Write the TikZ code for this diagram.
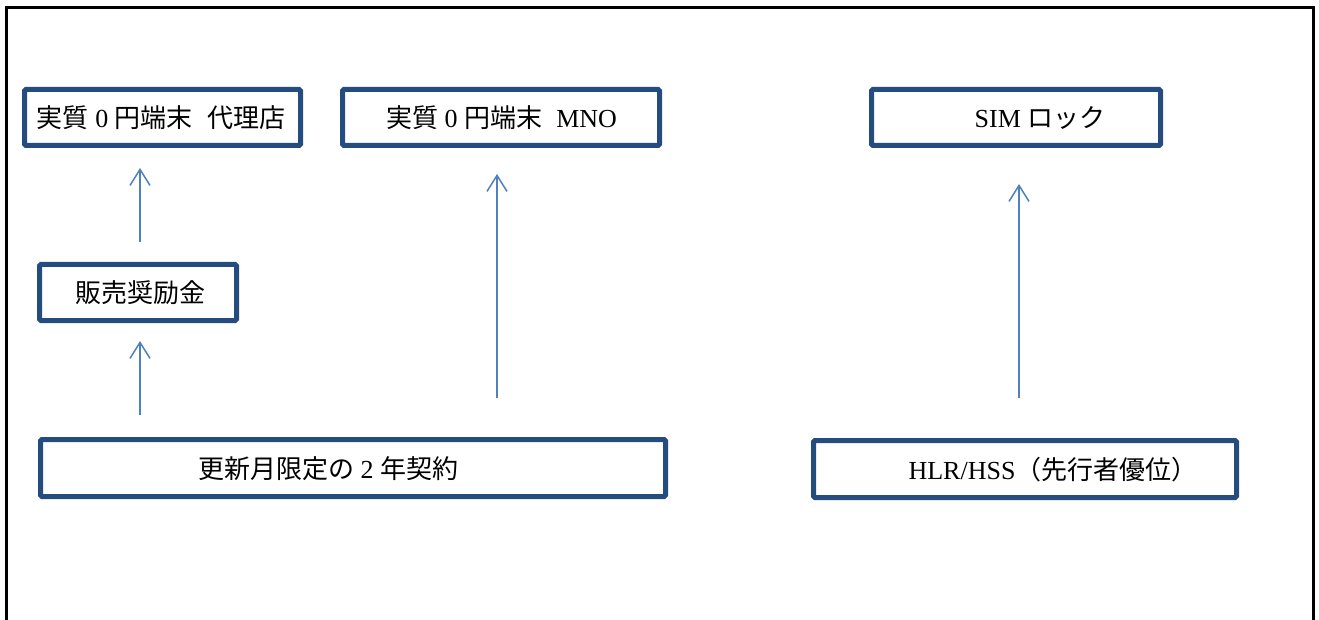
\documentclass[tikz,border=0pt]{standalone}
\usepackage{fontspec}
\setmainfont{Liberation Serif}
\newfontfamily\cjk{Noto Sans CJK JP}
\usetikzlibrary{arrows.meta}
\definecolor{boxblue}{RGB}{36,76,126}
\definecolor{arrblue}{RGB}{79,129,189}
\begin{document}
\begin{tikzpicture}[x=1pt,y=-1pt,
  box/.style={draw=boxblue,line width=5pt,rounded corners=1.5pt,minimum width=#1,minimum height=56pt,inner sep=0pt},
  lbl/.style={font=\fontsize{26}{30}\selectfont,inner sep=0pt,text=black},
  arr/.style={draw=arrblue,line width=1.5pt,-{Straight Barb[length=16pt,width=20pt]}}]
\useasboundingbox (0,0) rectangle (1319,620);
\draw[line width=3pt] (6.5,620) -- (6.5,7.5) -- (1313.5,7.5) -- (1313.5,620);

% boxes
\node[box=276pt] (b1) at (162.5,117.5) {};
\node[box=317pt] (b2) at (501,117.5) {};
\node[box=289pt] (b3) at (1016,117.5) {};
\node[box=197pt] (b4) at (138,292.5) {};
\node[box=625pt,minimum height=57pt] (b5) at (353,468) {};
\node[box=423pt,minimum height=57pt] (b6) at (1025,469) {};

% labels
\node[lbl] (t1) at (161,118) {{\cjk 実質} 0 {\cjk 円端末}\hspace{0.55em}{\cjk 代理店}};
\node[lbl] (t2) at (501.5,118) {{\cjk 実質} 0 {\cjk 円端末}\hspace{0.55em}MNO};
\node[lbl] (t3) at (1040,118) {SIM {\cjk ロック}};
\node[lbl] (t4) at (140,293) {\cjk 販売奨励金};
\node[lbl] (t5) at (328,469) {{\cjk 更新月限定の} 2 {\cjk 年契約}};
\node[lbl] (t6) at (1053,470) {HLR/HSS{\cjk （先行者優位）}};

% arrow ends
\coordinate (a1s) at (140,242);
\coordinate (a1e) at (140,168);
\coordinate (a2s) at (140,415);
\coordinate (a2e) at (140,341);
\coordinate (a3s) at (497,398);
\coordinate (a3e) at (497,174);
\coordinate (a4s) at (1019,398);
\coordinate (a4e) at (1019,184);

\draw[arr] (a1s) -- (a1e);
\draw[arr] (a2s) -- (a2e);
\draw[arr] (a3s) -- (a3e);
\draw[arr] (a4s) -- (a4e);
\end{tikzpicture}
\end{document}
